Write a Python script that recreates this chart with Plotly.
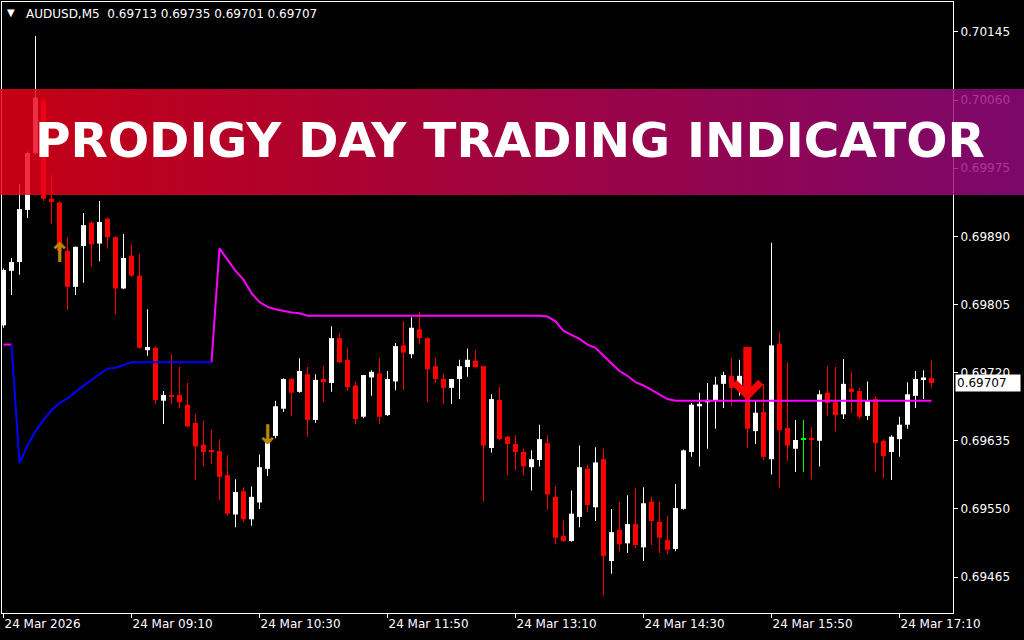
import base64
import plotly.graph_objects as go

# ---------------- data ----------------
symbol = "AUDUSD,M5"
tick_bars = [0, 16, 32, 48, 64, 80, 96, 112]
tick_text = ["24 Mar 2026", "24 Mar 09:10", "24 Mar 10:30", "24 Mar 11:50",
             "24 Mar 13:10", "24 Mar 14:30", "24 Mar 15:50", "24 Mar 17:10"]
price_ticks = [0.70145, 0.70060, 0.69975, 0.69890, 0.69805,
               0.69720, 0.69635, 0.69550, 0.69465]

open_ = [0.69779, 0.69847, 0.69858, 0.69923, 0.69994, 0.70060, 0.69937, 0.69932, 0.69872, 0.69827,
         0.69878, 0.69907, 0.69881, 0.69912, 0.69889, 0.69825, 0.69866, 0.69841, 0.69748, 0.69751,
         0.69685, 0.69691, 0.69692, 0.69680, 0.69657, 0.69630, 0.69623, 0.69622, 0.69592, 0.69543,
         0.69572, 0.69537, 0.69558, 0.69600, 0.69641, 0.69675, 0.69712, 0.69696, 0.69718, 0.69661,
         0.69712, 0.69707, 0.69763, 0.69736, 0.69704, 0.69665, 0.69714, 0.69719, 0.69667, 0.69709,
         0.69754, 0.69743, 0.69774, 0.69763, 0.69728, 0.69712, 0.69701, 0.69712, 0.69727, 0.69735,
         0.69728, 0.69626, 0.69686, 0.69640, 0.69631, 0.69621, 0.69602, 0.69611, 0.69632, 0.69565,
         0.69516, 0.69510, 0.69540, 0.69600, 0.69552, 0.69612, 0.69485, 0.69524, 0.69507, 0.69531,
         0.69502, 0.69559, 0.69534, 0.69511, 0.69500, 0.69550, 0.69621, 0.69678, 0.69683, 0.69685,
         0.69706, 0.69716, 0.69701, 0.69716, 0.69647, 0.69671, 0.69612, 0.69756, 0.69651, 0.69625,
         0.69637, 0.69638, 0.69635, 0.69695, 0.69683, 0.69668, 0.69700, 0.69697, 0.69666, 0.69687,
         0.69635, 0.69621, 0.69637, 0.69655, 0.69691, 0.69712, 0.69713]
high = [0.69850, 0.69863, 0.69955, 0.69996, 0.70140, 0.70063, 0.69967, 0.69934, 0.69889, 0.69877,
        0.69919, 0.69909, 0.69934, 0.69914, 0.69890, 0.69893, 0.69880, 0.69868, 0.69799, 0.69753,
        0.69697, 0.69743, 0.69727, 0.69707, 0.69668, 0.69660, 0.69649, 0.69637, 0.69617, 0.69587,
        0.69577, 0.69578, 0.69618, 0.69645, 0.69685, 0.69713, 0.69713, 0.69738, 0.69727, 0.69718,
        0.69728, 0.69778, 0.69769, 0.69751, 0.69709, 0.69717, 0.69723, 0.69738, 0.69722, 0.69757,
        0.69784, 0.69789, 0.69796, 0.69764, 0.69738, 0.69719, 0.69712, 0.69736, 0.69750, 0.69748,
        0.69729, 0.69693, 0.69702, 0.69641, 0.69642, 0.69625, 0.69623, 0.69655, 0.69642, 0.69578,
        0.69536, 0.69573, 0.69629, 0.69605, 0.69627, 0.69625, 0.69550, 0.69559, 0.69567, 0.69576,
        0.69577, 0.69565, 0.69559, 0.69541, 0.69581, 0.69624, 0.69682, 0.69695, 0.69707, 0.69715,
        0.69721, 0.69738, 0.69736, 0.69722, 0.69684, 0.69706, 0.69882, 0.69771, 0.69733, 0.69661,
        0.69661, 0.69652, 0.69698, 0.69728, 0.69727, 0.69737, 0.69721, 0.69701, 0.69709, 0.69690,
        0.69637, 0.69642, 0.69665, 0.69708, 0.69722, 0.69723, 0.69735]
low = [0.69776, 0.69817, 0.69842, 0.69913, 0.69992, 0.69934, 0.69906, 0.69865, 0.69798, 0.69817,
       0.69832, 0.69852, 0.69859, 0.69875, 0.69793, 0.69824, 0.69840, 0.69750, 0.69741, 0.69681,
       0.69656, 0.69681, 0.69676, 0.69652, 0.69586, 0.69603, 0.69606, 0.69561, 0.69541, 0.69527,
       0.69534, 0.69529, 0.69550, 0.69591, 0.69638, 0.69671, 0.69666, 0.69695, 0.69640, 0.69657,
       0.69683, 0.69696, 0.69732, 0.69697, 0.69656, 0.69663, 0.69691, 0.69656, 0.69666, 0.69698,
       0.69698, 0.69738, 0.69756, 0.69683, 0.69707, 0.69681, 0.69681, 0.69687, 0.69715, 0.69725,
       0.69559, 0.69620, 0.69636, 0.69592, 0.69598, 0.69592, 0.69573, 0.69603, 0.69549, 0.69506,
       0.69509, 0.69509, 0.69527, 0.69546, 0.69535, 0.69442, 0.69469, 0.69497, 0.69495, 0.69501,
       0.69485, 0.69505, 0.69495, 0.69493, 0.69497, 0.69549, 0.69615, 0.69603, 0.69625, 0.69650,
       0.69676, 0.69678, 0.69691, 0.69626, 0.69631, 0.69611, 0.69593, 0.69576, 0.69610, 0.69596,
       0.69596, 0.69587, 0.69603, 0.69666, 0.69647, 0.69662, 0.69670, 0.69662, 0.69661, 0.69596,
       0.69588, 0.69586, 0.69615, 0.69650, 0.69676, 0.69687, 0.69701]
close = [0.69848, 0.69858, 0.69924, 0.69994, 0.70063, 0.69937, 0.69933, 0.69872, 0.69827, 0.69877,
         0.69904, 0.69880, 0.69908, 0.69889, 0.69825, 0.69863, 0.69841, 0.69751, 0.69752, 0.69686,
         0.69692, 0.69690, 0.69683, 0.69653, 0.69628, 0.69621, 0.69621, 0.69590, 0.69544, 0.69571,
         0.69537, 0.69565, 0.69602, 0.69637, 0.69678, 0.69712, 0.69695, 0.69722, 0.69661, 0.69711,
         0.69708, 0.69763, 0.69733, 0.69702, 0.69662, 0.69717, 0.69721, 0.69665, 0.69712, 0.69753,
         0.69745, 0.69776, 0.69763, 0.69724, 0.69712, 0.69701, 0.69712, 0.69728, 0.69736, 0.69727,
         0.69629, 0.69687, 0.69637, 0.69631, 0.69621, 0.69603, 0.69612, 0.69637, 0.69568, 0.69514,
         0.69510, 0.69544, 0.69602, 0.69555, 0.69608, 0.69491, 0.69521, 0.69506, 0.69531, 0.69505,
         0.69557, 0.69535, 0.69514, 0.69499, 0.69551, 0.69623, 0.69680, 0.69681, 0.69686, 0.69705,
         0.69717, 0.69701, 0.69716, 0.69650, 0.69670, 0.69615, 0.69754, 0.69648, 0.69629, 0.69636,
         0.69637, 0.69636, 0.69693, 0.69682, 0.69667, 0.69706, 0.69696, 0.69665, 0.69685, 0.69632,
         0.69616, 0.69640, 0.69655, 0.69693, 0.69712, 0.69714, 0.69707]

# indicator line (one value per bar)
trend = ([0.69755, 0.69755, 0.69607, 0.69629, 0.69647, 0.69661, 0.69673, 0.69682, 0.69688, 0.69696,
          0.69704, 0.69711, 0.69718, 0.69725, 0.69726, 0.69730]
         + [0.69733] * 11
         + [0.69875, 0.69861, 0.69847, 0.69836, 0.69819, 0.69808, 0.69802, 0.69799, 0.69797, 0.69795,
            0.69794]
         + [0.69791] * 30
         + [0.69790, 0.69784, 0.69772, 0.69767, 0.69762, 0.69755, 0.69751, 0.69741, 0.69732, 0.69722,
            0.69716, 0.69708, 0.69704, 0.69698, 0.69692, 0.69687]
         + [0.69685] * 33)
up_first, up_last = 1, 26          # bars where the line is blue (up trend)

signal_bars = [7, 33, 93]
signal_prices = [0.69867, 0.69640, 0.69710]
signal_glyphs = ["\u2191", "\u2193", "\u2193"]
signal_colors = ["#b8860b", "#b8860b", "#ff0000"]
signal_sizes = [27, 27, 70]

title_text = "PRODIGY DAY TRADING INDICATOR"

# ---------------- figure ----------------
n = len(close)
idx = list(range(n))
one_px = (price_ticks[0] - price_ticks[-1]) / 545.0

def candle_color(o, c):
    if c > o:
        return "#ffffff"
    if c < o:
        return "#ff0000"
    return "#00ff00"

colors = [candle_color(o, c) for o, c in zip(open_, close)]
body_base = []
body_h = []
for o, c in zip(open_, close):
    h = abs(c - o)
    if h < one_px:
        body_base.append(min(o, c) - (one_px - h) / 2)
        body_h.append(one_px)
    else:
        body_base.append(min(o, c))
        body_h.append(h)

fig = go.Figure()
fig.add_trace(go.Bar(x=idx, base=low, y=[h - l for h, l in zip(high, low)], width=0.125,
                     marker=dict(color=colors, line=dict(width=0)), hoverinfo="skip"))
fig.add_trace(go.Bar(x=idx, base=body_base, y=body_h, width=0.625,
                     marker=dict(color=colors, line=dict(width=0)), hoverinfo="skip"))

blue_y = [v if up_first <= i <= up_last else None for i, v in enumerate(trend)]
mag_y = [v if (i <= up_first or i >= up_last) else None for i, v in enumerate(trend)]
fig.add_trace(go.Scatter(x=idx, y=mag_y, mode="lines", line=dict(color="#ff00ff", width=2),
                         connectgaps=False, hoverinfo="skip"))
fig.add_trace(go.Scatter(x=idx, y=blue_y, mode="lines", line=dict(color="#0000ff", width=2),
                         connectgaps=False, hoverinfo="skip"))

for b, p, g, col, sz in zip(signal_bars, signal_prices, signal_glyphs, signal_colors, signal_sizes):
    fig.add_trace(go.Scatter(x=[b], y=[p], mode="text", text=[g], textposition="middle center",
                             textfont=dict(family="DejaVu Sans", size=sz, color=col, weight="bold"),
                             hoverinfo="skip"))

# geometry helpers (pixels -> paper)
L, R, T, B = 2, 71, 2, 27
PW, PH = 1024 - L - R, 640 - T - B
px = lambda x: (x - L) / PW
py = lambda y: (640 - B - y) / PH

svg = ('<svg xmlns="http://www.w3.org/2000/svg" width="1024" height="106" preserveAspectRatio="none">'
       '<defs><linearGradient id="g" x1="0" y1="0" x2="1" y2="0">'
       '<stop offset="0" stop-color="rgb(240,0,24)"/>'
       '<stop offset="1" stop-color="rgb(152,10,132)"/>'
       '</linearGradient></defs><rect width="1024" height="106" fill="url(#g)"/></svg>')
src = "data:image/svg+xml;base64," + base64.b64encode(svg.encode()).decode()
fig.add_layout_image(dict(source=src, xref="paper", yref="paper", x=px(0), y=py(89),
                          sizex=1024 / PW, sizey=106 / PH, xanchor="left", yanchor="top",
                          sizing="stretch", opacity=0.82, layer="above"))

fig.add_annotation(text=title_text, xref="paper", yref="paper", x=px(510), y=py(140),
                   xanchor="center", yanchor="middle", showarrow=False,
                   font=dict(family="DejaVu Sans", size=48.5, color="#ffffff", weight="bold"))

fig.add_annotation(text="\u25bc", xref="paper", yref="paper", x=px(11), y=py(13),
                   xanchor="center", yanchor="middle", showarrow=False,
                   font=dict(family="DejaVu Sans", size=10, color="#ffffff"))
header = symbol + "\u00a0\u00a0" + " ".join(f"{v:.5f}" for v in (open_[-1], high[-1], low[-1], close[-1]))
fig.add_annotation(text=header, xref="paper", yref="paper", x=px(24), y=py(14),
                   xanchor="left", yanchor="middle", showarrow=False,
                   font=dict(family="DejaVu Sans", size=12, color="#ffffff"))

fig.add_annotation(text=f"{close[-1]:.5f}", xref="paper", yref="y", x=px(955), y=close[-1],
                   xanchor="left", yanchor="middle", showarrow=False, bgcolor="#ffffff",
                   borderpad=1, width=62, align="left",
                   font=dict(family="DejaVu Sans", size=12, color="#000000"))

axis_common = dict(showgrid=False, zeroline=False, showline=True, linecolor="#ffffff", linewidth=1,
                   mirror=True, ticks="outside", ticklen=4, tickcolor="#ffffff", automargin=False,
                   tickfont=dict(family="DejaVu Sans", size=12, color="#ffffff"), fixedrange=True)

fig.update_layout(
    width=1024, height=640, margin=dict(l=L, r=R, t=T, b=B),
    paper_bgcolor="#000000", plot_bgcolor="#000000",
    barmode="overlay", showlegend=False, hovermode=False,
    xaxis=dict(range=[-0.1875, 118.6875], tickvals=tick_bars, ticktext=tick_text,
               ticklabelposition="outside right", **axis_common),
    yaxis=dict(range=[0.694201, 0.701824], side="right", tickvals=price_ticks,
               ticktext=[f"{v:.5f}" for v in price_ticks], **axis_common),
)

fig.write_html("out.html", config={"displayModeBar": False},
               post_script="document.body.style.margin='0';document.body.style.background='#000';")
